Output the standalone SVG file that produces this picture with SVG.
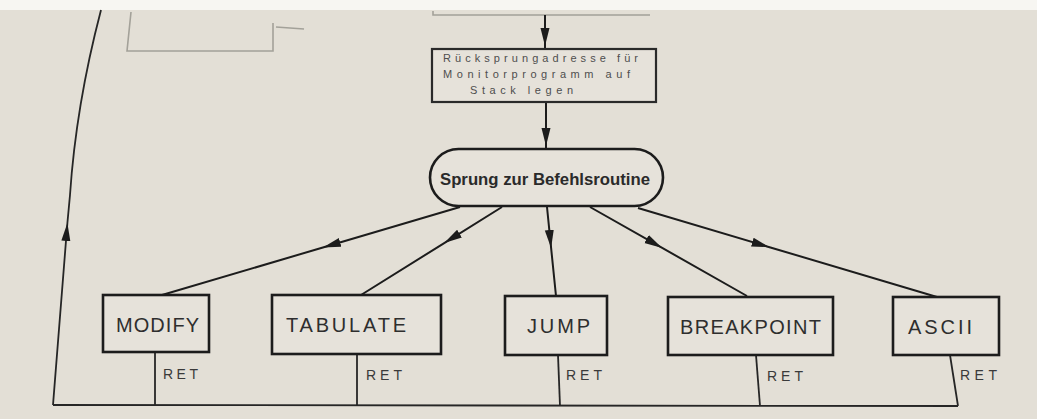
<svg xmlns="http://www.w3.org/2000/svg" width="1037" height="419" viewBox="0 0 1037 419">
<defs>
<style>
.bg{fill:#e3dfd6}
.box{fill:#e6e2da;stroke:#1c1c1c;stroke-width:2.6}
.ln{fill:none;stroke:#1c1c1c;stroke-width:2}
.ret{fill:none;stroke:#262626;stroke-width:1.8}
.faint{fill:none;stroke:#a3a199;stroke-width:1.6}
.lbl{font-family:"Liberation Sans",Arial,sans-serif;font-size:20px;fill:#2e2e2e}
.rt{font-family:"Liberation Sans",Arial,sans-serif;font-size:14px;fill:#3a3a3a}
.sm{font-family:"Liberation Sans",Arial,sans-serif;font-size:11px;fill:#4e4e4e}
.ov{font-family:"Liberation Sans",Arial,sans-serif;font-size:17px;font-weight:bold;fill:#2a2a2a}
</style>
<marker id="ah" viewBox="0 0 18 10" refX="18" refY="5" markerWidth="18" markerHeight="10" markerUnits="userSpaceOnUse" orient="auto">
<path d="M0,0.5 L18,5 L0,9.5 Z" fill="#1c1c1c"/>
</marker>
</defs>
<rect class="bg" x="0" y="0" width="1037" height="419"/>
<rect x="0" y="0" width="1037" height="10" fill="#f7f6f2"/>

<g id="partial-top">
<path class="faint" d="M131,12 L127,51 L273,51 L273,23"/>
<path class="faint" d="M276,27 L304,29"/>
<path class="faint" d="M433,11 L433,15 L650,15"/>
</g>

<g id="connectors">
<path class="ln" d="M545,15 L545,46 L545,49" marker-mid="url(#ah)"/>
<path class="ln" d="M546,102 L546,146 L546,149" marker-mid="url(#ah)"/>
<path class="ln" d="M460,207 L322.9,247.5 L162,295" marker-mid="url(#ah)"/>
<path class="ln" d="M502,207 L444.2,243.1 L361,295" marker-mid="url(#ah)"/>
<path class="ln" d="M547,207 L551.1,247.9 L556,296" marker-mid="url(#ah)"/>
<path class="ln" d="M590,207 L662.2,247.9 L747,296" marker-mid="url(#ah)"/>
<path class="ln" d="M638,208 L769.6,247.2 L937,297" marker-mid="url(#ah)"/>
<path class="ret" d="M155,352 L155,406"/>
<path class="ret" d="M357,354 L357,406"/>
<path class="ret" d="M558,355 L560,406"/>
<path class="ret" d="M756,355 L760,406"/>
<path class="ret" d="M950,355 L958,406"/>
<path class="ret" d="M958,406 L53,405"/>
<path class="ret" d="M53,405 L67.4,223 L70,195" marker-mid="url(#ah)"/>
<path class="ret" d="M70,195 C73,150 80,90 101,10"/>
<text class="rt" x="163" y="379" textLength="35" lengthAdjust="spacing">RET</text>
<text class="rt" x="366" y="380" textLength="36" lengthAdjust="spacing">RET</text>
<text class="rt" x="566" y="380" textLength="36" lengthAdjust="spacing">RET</text>
<text class="rt" x="767" y="381" textLength="36" lengthAdjust="spacing">RET</text>
<text class="rt" x="960" y="380" textLength="37" lengthAdjust="spacing">RET</text>
</g>

<g id="node-ruecksprung">
<rect x="432" y="49" width="224" height="53" fill="#e6e2da" stroke="#2a2a2a" stroke-width="2.2"/>
<text class="sm" x="443" y="62" textLength="195" lengthAdjust="spacing">Rücksprungadresse für</text>
<text class="sm" x="443" y="78" textLength="187" lengthAdjust="spacing">Monitorprogramm auf</text>
<text class="sm" x="470" y="94" textLength="103" lengthAdjust="spacing">Stack legen</text>
</g>

<g id="node-sprung">
<rect class="box" x="430" y="149" width="233" height="57" rx="28.5" ry="28.5"/>
<text class="ov" x="440" y="185" textLength="210" lengthAdjust="spacingAndGlyphs">Sprung zur Befehlsroutine</text>
</g>

<g id="node-modify">
<rect class="box" x="103" y="295" width="106" height="57"/>
<text class="lbl" x="116" y="332" textLength="83" lengthAdjust="spacing">MODIFY</text>
</g>
<g id="node-tabulate">
<rect class="box" x="272" y="295" width="169" height="59"/>
<text class="lbl" x="286" y="332" textLength="120" lengthAdjust="spacing">TABULATE</text>
</g>
<g id="node-jump">
<rect class="box" x="505" y="296" width="102" height="59"/>
<text class="lbl" x="527" y="333" textLength="63" lengthAdjust="spacing">JUMP</text>
</g>
<g id="node-breakpoint">
<rect class="box" x="668" y="297" width="165" height="58"/>
<text class="lbl" x="680" y="334" textLength="141" lengthAdjust="spacing">BREAKPOINT</text>
</g>
<g id="node-ascii">
<rect class="box" x="893" y="297" width="106" height="58"/>
<text class="lbl" x="908" y="334" textLength="64" lengthAdjust="spacing">ASCII</text>
</g>
</svg>
